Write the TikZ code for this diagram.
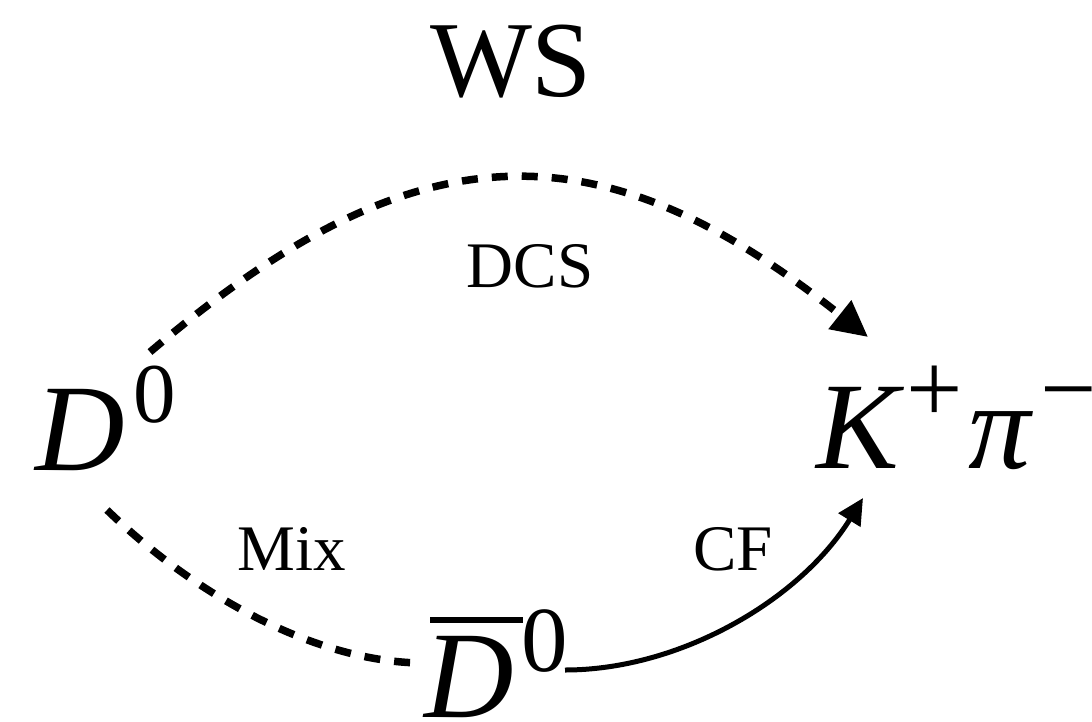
\documentclass[tikz,border=0pt]{standalone}
\usepackage{fontspec}
\setmainfont{Liberation Serif}
\usetikzlibrary{arrows.meta}
\tikzset{
  lbl/.style={inner sep=0pt, anchor=base, font=\fontsize{65}{65}\selectfont},
  title/.style={inner sep=0pt, anchor=base, font=\fontsize{108}{108}\selectfont},
  state/.style={inner sep=0pt, anchor=base west, font=\fontsize{124}{124}\selectfont},
  dashedlink/.style={line width=7.5pt, dash pattern=on 16pt off 14pt},
  solidlink/.style={line width=5pt},
}
\begin{document}
\begin{tikzpicture}[x=1pt,y=-1pt]
\useasboundingbox (0,0) rectangle (1092,721);

% labels
\node[title] (ws) at (511,96) {WS};
\node[lbl] (dcs) at (530,287) {DCS};
\node[lbl] (mix) at (292,570) {Mix};
\node[lbl] (cf) at (733,570) {CF};

% states
\node[state] (d0) at (35,470)
  {{\itshape D}\kern9pt\raisebox{48pt}{\fontsize{85}{85}\selectfont 0}};
\node[state] (kpi) at (816,468)
  {{\itshape K}\kern8pt\raisebox{46pt}{\fontsize{100}{100}\selectfont +}\kern5pt{\itshape π}\kern10pt\raisebox{46pt}{\fontsize{100}{100}\selectfont −}};
\node[state] (d0bar) at (424,717)
  {\rlap{\kern6pt\rule[94pt]{93pt}{6.5pt}}{\itshape D}\kern7.5pt\raisebox{46pt}{\fontsize{93}{93}\selectfont 0}};

% path ends
\coordinate (dcsA) at (150,352);
\coordinate (dcsB) at (868,337);
\coordinate (mixA) at (107,510);
\coordinate (mixB) at (422,663);
\coordinate (cfA) at (565,670);
\coordinate (cfB) at (863,498);

% transitions
\draw[dashedlink, -{Triangle[length=36pt,width=35pt]}]
  (dcsA) .. controls (418,124) and (600,124) .. (dcsB);
\draw[dashedlink] (mixA) .. controls (200,600) and (320,662) .. (mixB);
\draw[solidlink, -{Triangle[length=26pt,width=25pt]}]
  (cfA) .. controls (680,670) and (800,600) .. (cfB);
\end{tikzpicture}
\end{document}
